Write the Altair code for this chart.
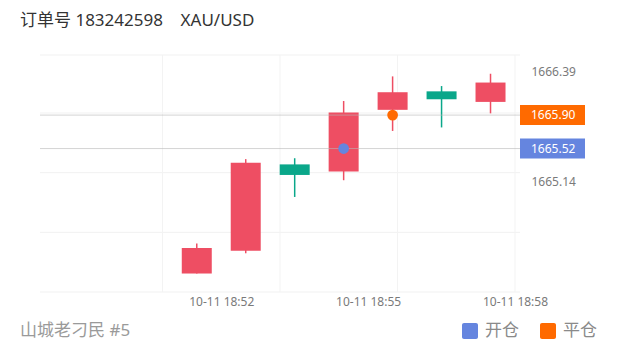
import altair as alt
import pandas as pd

# One-minute candles (minute offset past 18:00, bar centred on the half minute)
times = [51.5, 52.5, 53.5, 54.5, 55.5, 56.5, 57.5]
opens = [1664.10, 1664.36, 1665.34, 1665.26, 1665.96, 1666.17, 1666.05]
closes = [1664.39, 1665.36, 1665.22, 1665.93, 1666.16, 1666.08, 1666.27]
highs = [1664.44, 1665.40, 1665.41, 1666.06, 1666.34, 1666.23, 1666.37]
lows = [1664.10, 1664.33, 1664.97, 1665.16, 1665.72, 1665.76, 1665.92]

# Open / close trade markers
trade_types = ["开仓", "平仓"]
trade_times = [54.5, 55.5]
trade_prices = [1665.52, 1665.90]

# Axis ticks and background grid
x_ticks = [52, 55, 58]
y_ticks = [1666.39, 1665.14]
grid_prices = [1666.583, 1665.924, 1665.246, 1664.568, 1663.89]
grid_minutes = [50.8, 53.2, 55.6, 58.0]

title_text = "订单号 183242598\u00a0\u00a0\u00a0\u00a0XAU/USD"
footer_text = "山城老刁民 #5"

FONT = "Noto Sans, Noto Sans CJK SC, sans-serif"
UP = "#EE4E63"
DOWN = "#0AA78A"
W, H = 480, 237

candles = pd.DataFrame({"t": times, "open": opens, "close": closes,
                        "high": highs, "low": lows})
trades = pd.DataFrame({"type": trade_types, "t": trade_times,
                       "price": trade_prices})
trades["label"] = trades["price"].map(lambda v: f"{v:.2f}")

x_scale = alt.Scale(domain=[48.4, 58.0], nice=False, zero=False)
y_scale = alt.Scale(domain=[1663.89, 1666.583], nice=False, zero=False)
type_color = alt.Scale(domain=trade_types, range=["#6585DF", "#FF6A00"])

x_axis = alt.Axis(values=x_ticks, labelExpr="'10-11 18:' + datum.value",
                  grid=False, ticks=False, domain=False, labelPadding=4,
                  labelFlush=False, labelFontSize=12, labelColor="#7a7a7a",
                  labelFont=FONT, title=None)
y_axis = alt.Axis(orient="right", values=y_ticks, format=".2f", grid=False,
                  ticks=False, domain=False, labelPadding=11, labelFontSize=12,
                  labelColor="#7a7a7a", labelFont=FONT, title=None)

X = alt.X("t:Q", scale=x_scale, axis=x_axis)

hgrid = alt.Chart(pd.DataFrame({"p": grid_prices})).mark_rule(
    color="#f1f1f1", strokeWidth=1
).encode(y=alt.Y("p:Q", scale=y_scale, axis=y_axis),
         x=alt.value(0), x2=alt.value(W))

vgrid = alt.Chart(pd.DataFrame({"t": grid_minutes})).mark_rule(
    color="#f3f3f3", strokeWidth=1
).encode(x=X, y=alt.value(0), y2=alt.value(H))

direction = alt.condition("datum.close >= datum.open", alt.value(UP), alt.value(DOWN))

wicks = alt.Chart(candles).mark_rule(strokeWidth=1.5).encode(
    x=X, y=alt.Y("low:Q", scale=y_scale), y2="high:Q", color=direction)

bodies = alt.Chart(candles).mark_bar(size=30).encode(
    x=X, y=alt.Y("open:Q", scale=y_scale), y2="close:Q", color=direction)

price_lines = alt.Chart(trades).mark_rule(
    color="#b8b8b8", opacity=0.6, strokeWidth=1
).encode(y=alt.Y("price:Q", scale=y_scale), x=alt.value(0), x2=alt.value(W))

rounded_square = ("M-0.75,-1 H0.75 A0.25,0.25 0 0 1 1,-0.75 V0.75 "
                  "A0.25,0.25 0 0 1 0.75,1 H-0.75 A0.25,0.25 0 0 1 -1,0.75 "
                  "V-0.75 A0.25,0.25 0 0 1 -0.75,-1 Z")

dots = alt.Chart(trades).mark_circle(size=115, opacity=1).encode(
    x=X, y=alt.Y("price:Q", scale=y_scale),
    color=alt.Color("type:N", scale=type_color, title=None,
                    legend=alt.Legend(orient="none", legendX=421, legendY=267,
                                      direction="horizontal", symbolType=rounded_square,
                                      symbolSize=256, symbolOpacity=1,
                                      labelFontSize=17, labelFont=FONT,
                                      labelColor="#8a8a8a", labelOffset=6,
                                      columnPadding=20, padding=0)))

badges = alt.Chart(trades).mark_rect(yOffset=-10, y2Offset=10).encode(
    y=alt.Y("price:Q", scale=y_scale), y2="price:Q",
    x=alt.value(W), x2=alt.value(W + 65),
    color=alt.Color("type:N", scale=type_color, legend=None))

badge_text = alt.Chart(trades).mark_text(
    align="left", baseline="middle", color="white", fontSize=12, font=FONT
).encode(y=alt.Y("price:Q", scale=y_scale), x=alt.value(W + 11), text="label:N")

title = alt.Chart(pd.DataFrame({"s": [title_text]})).mark_text(
    align="left", baseline="middle", fontSize=17, color="#333333", font=FONT
).encode(x=alt.value(-20), y=alt.value(-34), text="s:N")

footer = alt.Chart(pd.DataFrame({"s": [footer_text]})).mark_text(
    align="left", baseline="middle", fontSize=17, color="#9a9a9a", font=FONT
).encode(x=alt.value(-20), y=alt.value(H + 39), text="s:N")

chart = alt.layer(
    hgrid, vgrid, wicks, bodies, price_lines, dots, badges, badge_text, title, footer
).properties(
    width=W, height=H,
    background="white",
    autosize=alt.AutoSizeParams(type="none"),
    padding={"left": 40, "top": 55, "right": 100, "bottom": 58},
).configure_view(strokeWidth=0, stroke="transparent")

chart.save("out.html", embed_options={"renderer": "svg", "actions": False})
